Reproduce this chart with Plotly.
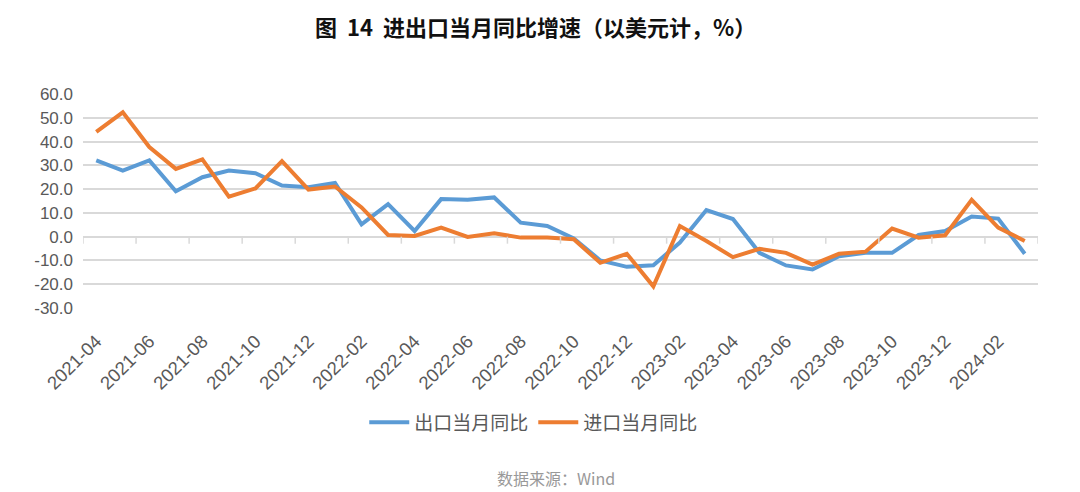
import plotly.graph_objs as go

months = [
    "2021-04", "2021-05", "2021-06", "2021-07", "2021-08", "2021-09",
    "2021-10", "2021-11", "2021-12", "2022-01", "2022-02", "2022-03",
    "2022-04", "2022-05", "2022-06", "2022-07", "2022-08", "2022-09",
    "2022-10", "2022-11", "2022-12", "2023-01", "2023-02", "2023-03",
    "2023-04", "2023-05", "2023-06", "2023-07", "2023-08", "2023-09",
    "2023-10", "2023-11", "2023-12", "2024-01", "2024-02", "2024-03",
]

export_yoy = [
    32.1, 27.8, 32.1, 19.1, 25.0, 27.8, 26.7, 21.5, 20.8, 22.6, 5.2, 13.7,
    2.4, 15.8, 15.5, 16.5, 5.9, 4.5, -0.7, -10.0, -12.7, -12.0, -2.5, 11.2,
    7.4, -6.8, -12.1, -13.8, -8.2, -6.8, -6.8, 0.7, 2.4, 8.5, 7.6, -7.2,
]

import_yoy = [
    44.1, 52.3, 37.7, 28.5, 32.5, 16.8, 20.3, 31.8, 19.8, 21.1, 12.3, 0.7,
    0.3, 3.8, -0.1, 1.4, -0.4, -0.4, -1.1, -11.0, -7.2, -20.9, 4.5, -1.8,
    -8.6, -5.1, -6.8, -11.7, -7.2, -6.3, 3.4, -0.4, 0.6, 15.5, 3.8, -1.8,
]

y_ticks = [60, 50, 40, 30, 20, 10, 0, -10, -20, -30]
y_labels = ["%.1f" % v for v in y_ticks]  # plain hyphen like the source

names = ["出口当月同比", "进口当月同比"]
colors = ["#5B9BD5", "#ED7D31"]

font_family = "Arial, Liberation Sans, Noto Sans CJK SC, sans-serif"
cjk_family = "Noto Sans CJK SC, sans-serif"
grid_color = "#D9D9D9"
text_color = "#595959"

trace1 = go.Scatter(x=months, y=export_yoy, name=names[0], mode="lines",
                    line=dict(color=colors[0], width=4))
trace2 = go.Scatter(x=months, y=import_yoy, name=names[1], mode="lines",
                    line=dict(color=colors[1], width=4))

# small tick marks hanging from the zero line, between every second month
tick_shapes = []
for i in range(0, len(months) + 1, 2):
    tick_shapes.append(dict(
        type="line", xref="x", yref="y", ysizemode="pixel", yanchor=0,
        x0=i - 0.5, x1=i - 0.5, y0=0, y1=-7,
        line=dict(color=grid_color, width=1.5),
    ))

layout = go.Layout(
    width=1080, height=492,
    paper_bgcolor="white", plot_bgcolor="white",
    margin=dict(l=83, r=42, t=94, b=184),
    font=dict(family=font_family, color=text_color),
    title=dict(
        text="<b>图  14  进出口当月同比增速（以美元计，%）</b>",
        x=0.496, xanchor="center", y=0.943, yanchor="middle",
        font=dict(family=cjk_family, size=22, color="#111111"),
    ),
    xaxis=dict(
        type="category", tickmode="array",
        tickvals=months[::2], ticktext=months[::2],
        tickangle=-45, tickfont=dict(size=18.5, color=text_color),
        showgrid=False, showline=False, ticks="", automargin=False,
        ticklabelstandoff=18,
        range=[-0.5, len(months) - 0.5],
    ),
    yaxis=dict(
        range=[-30, 60], tickmode="array",
        tickvals=y_ticks, ticktext=y_labels,
        tickfont=dict(size=17, color=text_color),
        showgrid=True, gridcolor=grid_color, gridwidth=1.5,
        zeroline=True, zerolinecolor=grid_color, zerolinewidth=1.5,
        ticks="", ticklen=0, automargin=False, ticklabelstandoff=9,
    ),
    legend=dict(
        orientation="h", x=0.472, xanchor="center", y=-0.535, yanchor="middle",
        font=dict(family=cjk_family, size=19, color=text_color),
        itemwidth=40, tracegroupgap=0,
    ),
    shapes=tick_shapes,
    annotations=[dict(
        text="数据来源：Wind", xref="paper", yref="paper",
        x=0.495, y=-0.795, xanchor="center", yanchor="middle",
        showarrow=False,
        font=dict(family=cjk_family, size=16, color="#999999"),
    )],
)

fig = go.Figure(data=[trace1, trace2], layout=layout)
# drop the browser's default page margin so the figure sits at the top-left
fig.write_html("out.html", config={"displayModeBar": False},
               post_script="document.body.style.margin='0';")
